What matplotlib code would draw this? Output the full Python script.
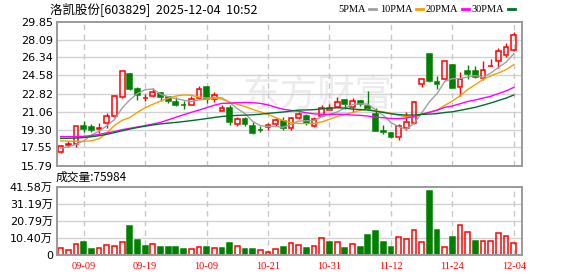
"""
K-line chart for 洛凯股份 (603829): daily candles with 5/10/20/30 day MAs
and a volume panel below.  Saves out.png at 578x276.
"""

import matplotlib
matplotlib.use("Agg")
import matplotlib.pyplot as plt
import numpy as np
import pandas as pd
from matplotlib.lines import Line2D
from matplotlib.patches import Rectangle

plt.rcParams['font.family'] = ['DejaVu Sans', 'Noto Sans CJK SC']


TITLE = "洛凯股份[603829]  2025-12-04  10:52"
VOLUME_TITLE = "成交量:75984"

DATES = [
    "09-04", "09-05", "09-08", "09-09", "09-10", "09-11", "09-12", "09-15",
    "09-16", "09-17", "09-18", "09-19", "09-22", "09-23", "09-24", "09-25",
    "09-26", "09-29", "09-30", "10-09", "10-10", "10-13", "10-14", "10-15",
    "10-16", "10-17", "10-20", "10-21", "10-22", "10-23", "10-24", "10-27",
    "10-28", "10-29", "10-30", "10-31", "11-03", "11-04", "11-05", "11-06",
    "11-07", "11-10", "11-11", "11-12", "11-13", "11-14", "11-17", "11-18",
    "11-19", "11-20", "11-21", "11-24", "11-25", "11-26", "11-27", "11-28",
    "12-01", "12-02", "12-03", "12-04",
]

OPEN = [
    17.06, 17.82, 17.85, 19.65, 19.55, 19.33, 19.90, 20.62, 22.45, 24.75,
    23.25, 22.36, 22.60, 22.86, 22.47, 21.98, 21.72, 21.72, 22.37, 23.50,
    22.30, 21.15, 21.37, 19.81, 20.30, 19.65, 19.26, 19.52, 19.84, 20.14,
    19.42, 20.46, 20.62, 19.68, 20.65, 21.25, 21.53, 22.15, 21.47, 22.05,
    21.63, 20.78, 19.15, 19.01, 18.62, 19.50, 19.90, 23.73, 26.68, 23.95,
    24.20, 25.60, 23.44, 25.04, 25.04, 24.38, 25.50, 26.00, 26.60, 27.10,
]
HIGH = [
    17.80, 18.20, 19.66, 20.12, 19.80, 19.92, 20.92, 22.65, 25.05, 24.80,
    23.45, 22.78, 23.33, 22.97, 22.60, 22.43, 22.10, 22.53, 23.60, 23.60,
    22.95, 21.70, 21.70, 20.56, 20.56, 20.07, 19.65, 19.97, 20.40, 20.56,
    20.56, 21.04, 20.85, 20.56, 21.69, 21.76, 22.44, 22.28, 22.34, 22.18,
    23.06, 21.45, 19.70, 19.10, 19.86, 21.06, 22.04, 24.25, 26.70, 24.53,
    26.00, 25.70, 24.96, 25.60, 25.46, 25.95, 26.18, 27.30, 27.74, 28.78,
]
LOW = [
    17.00, 17.55, 17.62, 19.03, 19.03, 18.98, 19.44, 20.55, 22.40, 23.15,
    22.20, 22.10, 22.48, 22.05, 21.88, 21.62, 21.35, 21.65, 22.30, 21.88,
    21.95, 21.12, 19.75, 19.60, 19.68, 18.87, 19.10, 19.26, 19.65, 19.26,
    19.26, 20.33, 19.75, 19.58, 20.53, 21.21, 21.47, 21.30, 21.04, 21.63,
    21.21, 19.19, 18.90, 18.50, 18.30, 19.27, 19.80, 23.48, 23.98, 23.30,
    24.15, 23.38, 22.53, 24.25, 24.32, 24.16, 25.48, 25.30, 26.38, 26.95,
]
CLOSE = [
    17.70, 17.86, 19.62, 19.37, 19.30, 19.48, 20.60, 22.62, 25.00, 23.28,
    22.63, 22.42, 23.00, 22.43, 22.04, 21.70, 21.66, 22.30, 23.25, 22.33,
    22.68, 21.37, 20.07, 20.30, 19.81, 18.93, 19.24, 19.75, 20.23, 19.49,
    20.40, 20.78, 19.91, 20.30, 21.45, 21.42, 22.02, 21.76, 22.08, 21.76,
    21.30, 19.19, 19.10, 18.62, 19.66, 20.08, 21.98, 24.20, 24.06, 23.72,
    25.98, 23.40, 24.28, 24.77, 24.42, 25.07, 25.55, 27.00, 27.35, 28.55,
]
VOLUME_WAN = [
    4.24, 3.03, 6.66, 8.07, 3.83, 4.24, 6.05, 5.45, 7.87, 17.76,
    9.28, 5.65, 6.66, 5.05, 5.05, 5.05, 3.83, 3.63, 4.84, 5.05,
    4.24, 4.44, 7.47, 5.45, 3.83, 3.83, 3.03, 1.82, 3.63, 5.05,
    7.26, 6.05, 4.44, 5.45, 10.29, 8.07, 7.87, 4.44, 6.66, 5.05,
    12.31, 14.73, 8.07, 5.05, 10.90, 9.69, 15.14, 7.87, 38.95, 15.34,
    4.84, 11.10, 18.16, 13.92, 8.68, 8.48, 8.48, 13.52, 11.50, 7.60,
]

# MA values shown before each window is full (history lies left of the chart)
MA5_HEAD = [17.49, 17.62, 17.85, 18.20]
MA10_HEAD = [18.19, 18.17, 18.15, 18.15, 18.20, 18.40, 18.95, 19.70, 20.20]
MA20_HEAD = [18.61, 18.61, 18.61, 18.64, 18.71, 18.84, 18.97, 19.10, 19.29,
             19.42, 19.55, 19.68, 19.84, 20.00, 20.25, 20.50, 20.75, 20.98,
             21.20]
MA30_HEAD = [18.45, 18.45, 18.47, 18.52, 18.60, 18.70, 18.83, 19.00, 19.18,
             19.35, 19.50, 19.63, 19.75, 19.85, 19.93, 20.00, 20.08, 20.17,
             20.27, 20.37, 20.48, 20.58, 20.64, 20.68, 20.71, 20.74, 20.80,
             20.88, 20.95]

PRICE_TICKS = [15.79, 17.55, 19.30, 21.06, 22.82, 24.58, 26.34, 28.09, 29.85]
VOLUME_TICKS = [0, 10.40, 20.79, 31.19, 41.58]
VOLUME_LABELS = ["0", "10.40万", "20.79万", "31.19万", "41.58万"]

RED = '#ff0000'
GREEN = '#008000'
MA_STYLES = [  # (label, window, head, colour, legend x in px)
    ('5PMA', 5, MA5_HEAD, '#a0a0a0', 338),
    ('10PMA', 10, MA10_HEAD, '#f5a000', 380),
    ('20PMA', 20, MA20_HEAD, '#ff00ff', 426),
    ('30PMA', 30, MA30_HEAD, '#006f2e', 472),
]

W, H = 578, 276
BODY = 0.62


def fx(px):
    return px / W


def fy(py):
    return 1 - py / H


def moving_average(closes, n, head):
    ma = pd.Series(closes).rolling(n).mean().to_numpy()
    ma[:n - 1] = head
    return ma


def style_panel(ax, ticks, labels, xticks):
    for s in ax.spines.values():
        s.set_color('#9a9a9a')
        s.set_linewidth(1.4)
    ax.set_yticks(ticks)
    ax.set_yticklabels(labels, fontsize=8)
    ax.tick_params(length=0, pad=3)
    for t in ticks[1:-1]:
        ax.axhline(t, color='#d2d2d2', lw=1, zorder=0.5)
    for x in xticks:
        ax.axvline(x, color='#c8c8c8', lw=1, ls=(0, (4, 3)), zorder=0.5)
    ax.set_xlim(-0.48, 60.07)


def draw_candles(ax):
    for i, (o, h, l, c) in enumerate(zip(OPEN, HIGH, LOW, CLOSE)):
        up = c >= o
        colour = RED if up else GREEN
        top, bot = max(o, c), min(o, c)
        ax.vlines(i, top, h, color=colour, lw=1, zorder=2)
        ax.vlines(i, l, bot, color=colour, lw=1, zorder=2)
        ax.add_patch(Rectangle((i - BODY / 2, bot), BODY, max(top - bot, 0.015),
                               facecolor='none' if up else colour,
                               edgecolor=colour, lw=1.1, zorder=2))


def draw_volume(ax):
    prev = OPEN[0]
    for i, (c, v) in enumerate(zip(CLOSE, VOLUME_WAN)):
        up = c >= prev
        colour = RED if up else GREEN
        ax.add_patch(Rectangle((i - BODY / 2, 0), BODY, v,
                               facecolor='none' if up else colour,
                               edgecolor=colour, lw=1.1, zorder=2))
        prev = c


def main():
    fig = plt.figure(figsize=(W / 100, H / 100), dpi=100)
    xticks = list(range(3, len(DATES), 8))

    ax = fig.add_axes([fx(57), fy(165.5), fx(522) - fx(57), fy(21.5) - fy(165.5)])
    style_panel(ax, PRICE_TICKS, [f"{t:.2f}" for t in PRICE_TICKS], xticks)
    ax.set_ylim(PRICE_TICKS[0], PRICE_TICKS[-1])
    ax.set_xticks([])
    ax.text(0.56, 0.49, "东方财富", transform=ax.transAxes, fontsize=27,
            color='#ececec', ha='center', va='center', zorder=0.3,
            family=['Noto Sans CJK SC'])
    draw_candles(ax)
    xs = np.arange(len(CLOSE))
    for label, n, head, colour, lx in MA_STYLES:
        ax.plot(xs, moving_average(CLOSE, n, head), color=colour, lw=1, zorder=3)

    vax = fig.add_axes([fx(57), fy(255.3), fx(522) - fx(57), fy(186.5) - fy(255.3)])
    style_panel(vax, VOLUME_TICKS, VOLUME_LABELS, xticks)
    vax.set_ylim(0, VOLUME_TICKS[-1])
    draw_volume(vax)
    vax.set_xticks(xticks)
    vax.set_xticklabels([DATES[i] for i in xticks], color=RED, fontsize=7.5,
                        family=['Liberation Serif'])
    vax.tick_params(axis='x', pad=5)

    fig.text(fx(50), fy(9), TITLE, fontsize=9, va='center',
             family=['Noto Sans CJK SC'])
    fig.text(fx(56), fy(177), VOLUME_TITLE, fontsize=8.5, va='center',
             family=['Noto Sans CJK SC'])

    # legend row, top right
    renderer = fig.canvas.get_renderer()
    for label, n, head, colour, lx in MA_STYLES:
        t = fig.text(fx(lx), fy(9), label, fontsize=7.5, va='center',
                     family=['Liberation Serif'])
        tw = t.get_window_extent(renderer=renderer).width
        fig.add_artist(Line2D([fx(lx + tw + 3), fx(lx + tw + 10)], [fy(9), fy(9)],
                              color=colour, lw=2, transform=fig.transFigure))

    fig.savefig("out.png", dpi=100)


if __name__ == "__main__":
    main()
